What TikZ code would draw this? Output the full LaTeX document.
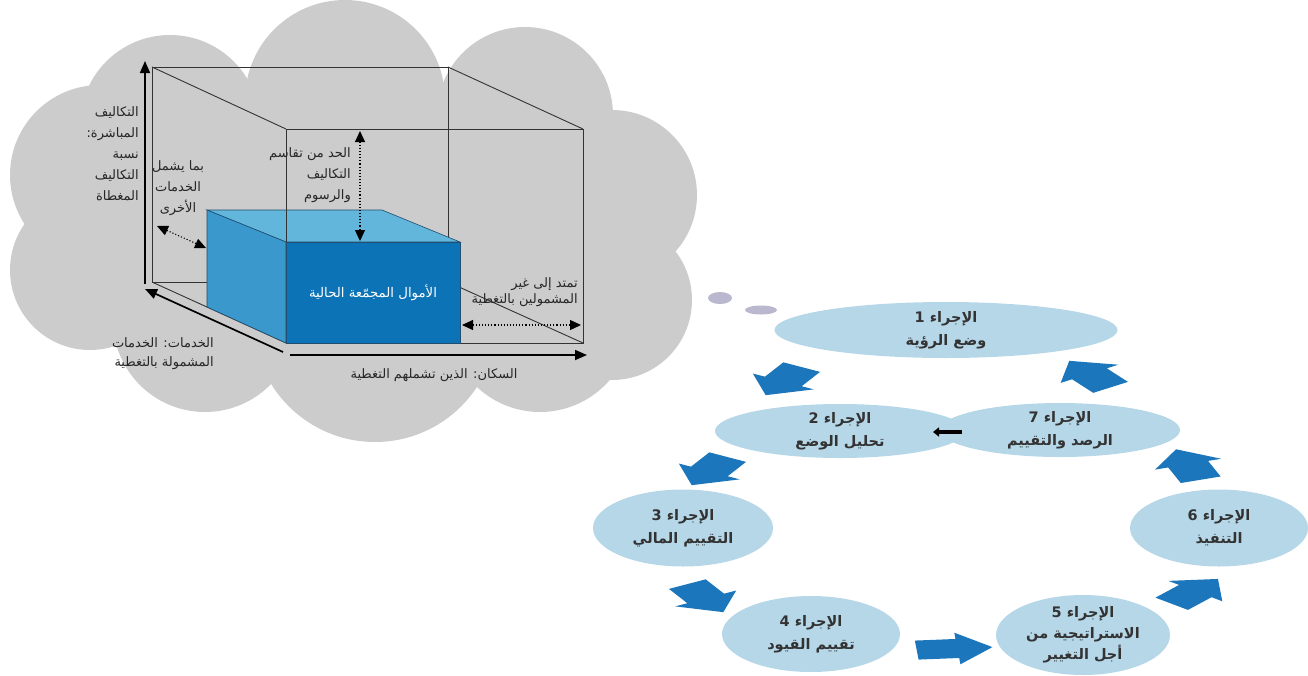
\documentclass[tikz,border=0pt]{standalone}
\usepackage{fontspec}
\usetikzlibrary{shapes.geometric,shapes.arrows,arrows.meta}
\newfontfamily\arabicfont[Script=Arabic]{DejaVu Sans}
\TeXXeTstate=1
\newcommand{\rl}[1]{\beginR#1\endR}

\definecolor{cloudgray}{HTML}{CCCCCC}
\definecolor{wire}{HTML}{333333}
\definecolor{boxtop}{HTML}{63B6DB}
\definecolor{boxside}{HTML}{3A98CC}
\definecolor{boxfront}{HTML}{0C73B6}
\definecolor{boxedge}{HTML}{1F4E6E}
\definecolor{stepfill}{HTML}{B5D7E8}
\definecolor{stepink}{HTML}{333333}
\definecolor{flowblue}{HTML}{1B76BC}
\definecolor{spotgray}{HTML}{BAB8CF}
\definecolor{labelgray}{HTML}{262626}

\begin{document}
\begin{tikzpicture}[x=1pt,y=-1pt,
  cubetext/.style={font=\arabicfont\fontsize{13}{21}\selectfont, text=labelgray, inner sep=0pt},
  stepnode/.style={ellipse, fill=stepfill, inner sep=0pt, text=stepink, align=center,
    font=\arabicfont\bfseries\fontsize{14.5}{23}\selectfont},
  flowarrow/.style={single arrow, fill=flowblue, inner sep=0pt, inner ysep=21pt,
    minimum height=72pt, minimum width=70pt, single arrow head extend=14pt, yscale=0.45},
  wireline/.style={draw=wire, line width=0.9pt},
  axisline/.style={line width=1.7pt, -{Triangle[length=12pt,width=10pt]}},
  gauge/.style={line width=1.1pt, dotted, {Triangle[length=11pt,width=10pt]}-{Triangle[length=11pt,width=10pt]}},
  greyspot/.style={ellipse, fill=spotgray, inner sep=0pt}
]
\useasboundingbox (0,0) rectangle (1308,675);

% ---------- cloud ----------
\foreach \cx/\cy/\r in {345/100/100, 170/125/90, 100/175/90, 90/270/80, 525/115/88,
  612/195/85, 612/300/80, 540/320/92, 375/320/122, 205/320/92}
  \fill[cloudgray] (\cx,\cy) circle[radius=\r pt];
\fill[cloudgray] (370,230) ellipse[x radius=260pt, y radius=150pt];

% ---------- outer box (wire frame) ----------
\coordinate (bTL) at (152,67);  \coordinate (bTR) at (448,67);
\coordinate (bBL) at (152,282); \coordinate (bBR) at (448,282);
\coordinate (fTL) at (286,129); \coordinate (fTR) at (583,129);
\coordinate (fBL) at (286,343); \coordinate (fBR) at (583,343);
\draw[wireline] (bTL) -- (bTR) -- (bBR) -- (bBL) -- cycle;
\draw[wireline] (bTL) -- (fTL) (bTR) -- (fTR) (bBL) -- (fBL) (bBR) -- (fBR);
\draw[wireline] (fTL) -- (fTR) -- (fBR) -- (fBL) -- cycle;

% ---------- pooled funds block ----------
\coordinate (qBL) at (207,210); \coordinate (qBR) at (382,210);
\coordinate (qFL) at (286,242); \coordinate (qFR) at (460,242);
\coordinate (qFLb) at (286,343); \coordinate (qFRb) at (460,343);
\coordinate (qBLb) at (207,307);
\filldraw[fill=boxtop, draw=boxedge, line width=0.6pt] (qBL) -- (qBR) -- (qFR) -- (qFL) -- cycle;
\filldraw[fill=boxside, draw=boxedge, line width=0.6pt] (qBL) -- (qFL) -- (qFLb) -- (qBLb) -- cycle;
\filldraw[fill=boxfront, draw=boxedge, line width=0.6pt] (qFL) rectangle (qFRb);
\coordinate (kL) at (286,242); \coordinate (kR) at (448,236);
\draw[wireline] (fTL) -- (kL) (bTR) -- (kR);
\node[font=\arabicfont\fontsize{13.3}{16}\selectfont, text=white] (pool) at (373,293) {\rl{الأموال المجمّعة الحالية}};

% ---------- axes ----------
\coordinate (yA0) at (145,284); \coordinate (yA1) at (145,61);
\coordinate (zA0) at (283,352); \coordinate (zA1) at (145,289);
\coordinate (xA0) at (290,355); \coordinate (xA1) at (587,355);
\draw[axisline] (yA0) -- (yA1);
\draw[axisline] (zA0) -- (zA1);
\draw[axisline] (xA0) -- (xA1);

% ---------- dotted gauges ----------
\coordinate (g1a) at (360,131); \coordinate (g1b) at (360,241);
\coordinate (g2a) at (157,226); \coordinate (g2b) at (206,248);
\coordinate (g3a) at (462,325); \coordinate (g3b) at (581,325);
\draw[gauge] (g1a) -- (g1b);
\draw[gauge] (g2a) -- (g2b);
\draw[gauge] (g3a) -- (g3b);

% ---------- labels ----------
\node[cubetext, align=right, anchor=east] (costs) at (139,154)
  {\rl{التكاليف}\\\rl{المباشرة:}\\\rl{نسبة}\\\rl{التكاليف}\\\rl{المغطاة}};
\node[cubetext, align=center] (others) at (178,188)
  {\rl{بما يشمل}\\\rl{الخدمات}\\\rl{الأخرى}};
\node[cubetext, align=right, anchor=east] (sharing) at (351,175)
  {\rl{الحد من تقاسم}\\\rl{التكاليف}\\\rl{والرسوم}};
\node[cubetext, align=right, anchor=east, font=\arabicfont\fontsize{13}{16}\selectfont] (extend) at (578,292)
  {\rl{تمتد إلى غير}\\\rl{المشمولين بالتغطية}};
\node[cubetext] (people) at (434,375) {\rl{السكان: الذين تشملهم التغطية}};
\node[cubetext, align=right, anchor=east, font=\arabicfont\fontsize{13}{19}\selectfont] (services) at (214,354)
  {\rl{الخدمات: الخدمات}\\\rl{المشمولة بالتغطية}};

% ---------- action cycle ----------
\node[greyspot, minimum width=24pt, minimum height=12pt] (s1) at (720,298) {};
\node[greyspot, minimum width=32pt, minimum height=9pt] (s2) at (761,310) {};

\node[stepnode, minimum width=343pt, minimum height=56pt] (e1) at (946,330)
  {\rl{الإجراء 1}\\\rl{وضع الرؤية}};
\node[stepnode, minimum width=250pt, minimum height=54pt] (e2) at (840,431)
  {\rl{الإجراء 2}\\\rl{تحليل الوضع}};
\node[stepnode, minimum width=240pt, minimum height=54pt] (e7) at (1060,430)
  {\rl{الإجراء 7}\\\rl{الرصد والتقييم}};
\node[stepnode, minimum width=180pt, minimum height=77pt] (e3) at (683,528)
  {\rl{الإجراء 3}\\\rl{التقييم المالي}};
\node[stepnode, minimum width=178pt, minimum height=76pt] (e4) at (811,634)
  {\rl{الإجراء 4}\\\rl{تقييم القيود}};
\node[stepnode, minimum width=174pt, minimum height=76pt, font=\arabicfont\bfseries\fontsize{14.5}{21}\selectfont] (e5) at (1083,635)
  {\rl{الإجراء 5}\\\rl{الاستراتيجية من}\\\rl{أجل التغيير}};
\node[stepnode, minimum width=178pt, minimum height=77pt] (e6) at (1219,528)
  {\rl{الإجراء 6}\\\rl{التنفيذ}};

\node[flowarrow, rotate=240] (a12) at (789,377) {};
\node[flowarrow, rotate=240] (a23) at (715,467) {};
\node[flowarrow, rotate=300] (a34) at (700,594) {};
\node[flowarrow, minimum height=76pt, rotate=5] (a45) at (944,649) {};
\node[flowarrow, rotate=50]  (a56) at (1188,595) {};
\node[flowarrow, rotate=110] (a67) at (1192,469) {};
\node[flowarrow, rotate=125] (a71) at (1096,378) {};

\coordinate (k7) at (962,432); \coordinate (k2) at (933,432);
\draw[line width=4.5pt, -{Triangle[length=6pt,width=9pt]}] (k7) -- (k2);
\end{tikzpicture}
\end{document}
